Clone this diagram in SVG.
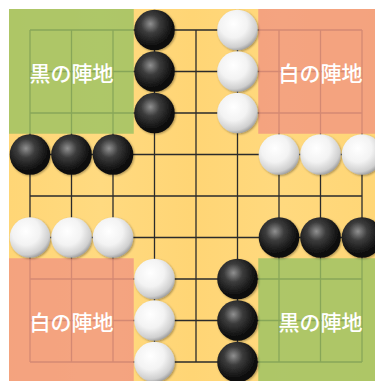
<svg xmlns="http://www.w3.org/2000/svg" width="375" height="381" viewBox="0 0 375 381">
<defs>
<linearGradient id="wood" x1="0" y1="0" x2="1" y2="0">
<stop offset="0" stop-color="#FFD676"/>
<stop offset="0.25" stop-color="#FFDA80"/>
<stop offset="0.5" stop-color="#FFD575"/>
<stop offset="0.75" stop-color="#FFD97E"/>
<stop offset="1" stop-color="#FFD676"/>
</linearGradient>
<radialGradient id="bk" cx="0.4" cy="0.35" r="0.65">
<stop offset="0" stop-color="#909090"/>
<stop offset="0.35" stop-color="#3c3c3c"/>
<stop offset="0.8" stop-color="#121212"/>
<stop offset="1" stop-color="#0a0a0a"/>
</radialGradient>
<radialGradient id="wh" cx="0.4" cy="0.35" r="0.68">
<stop offset="0" stop-color="#ffffff"/>
<stop offset="0.5" stop-color="#f3f3f3"/>
<stop offset="0.85" stop-color="#cfcfcf"/>
<stop offset="1" stop-color="#9a9a9a"/>
</radialGradient>
<filter id="sh" x="-20%" y="-20%" width="150%" height="150%">
<feDropShadow dx="1" dy="1" stdDeviation="0.8" flood-color="#000" flood-opacity="0.35"/>
</filter>
</defs>
<style>
.ln{stroke:#2b2b2b;stroke-width:1.3;fill:none}
.green{fill:#9CC263;opacity:0.82}
.pink{fill:#F29A80;opacity:0.85}
.lbl{font-family:"Noto Sans CJK JP","Noto Sans CJK SC",sans-serif;font-size:21px;font-weight:500;fill:#fff;text-anchor:middle;dominant-baseline:central}
.b{fill:url(#bk);filter:url(#sh)}
.w{fill:url(#wh);filter:url(#sh)}
</style>
<rect x="0" y="0" width="375" height="381" fill="#fff"/>
<rect id="board" x="9" y="9" width="366" height="372" fill="url(#wood)"/>
<g id="grid" class="ln">
<path d="M30 30V362M71.5 30V362M113 30V362M154.5 30V362M196 30V362M237.5 30V362M279 30V362M320.5 30V362M362 30V362"/>
<path d="M30 30H362M30 71.5H362M30 113H362M30 154.5H362M30 196H362M30 237.5H362M30 279H362M30 320.5H362M30 362H362"/>
</g>
<g id="territories">
<g id="black-tl"><rect class="green" x="9" y="9" width="124.75" height="124.75"/><text class="lbl" x="71.5" y="71.5">黒の陣地</text></g>
<g id="white-tr"><rect class="pink" x="258.25" y="9" width="116.75" height="124.75"/><text class="lbl" x="320.5" y="71.5">白の陣地</text></g>
<g id="white-bl"><rect class="pink" x="9" y="258.25" width="124.75" height="122.75"/><text class="lbl" x="71.5" y="320.5">白の陣地</text></g>
<g id="black-br"><rect class="green" x="258.25" y="258.25" width="116.75" height="122.75"/><text class="lbl" x="320.5" y="320.5">黒の陣地</text></g>
</g>
<g id="stones">
<circle class="b" cx="154.5" cy="30" r="20.3"/>
<circle class="b" cx="154.5" cy="71.5" r="20.3"/>
<circle class="b" cx="154.5" cy="113" r="20.3"/>
<circle class="b" cx="30" cy="154.5" r="20.3"/>
<circle class="b" cx="71.5" cy="154.5" r="20.3"/>
<circle class="b" cx="113" cy="154.5" r="20.3"/>
<circle class="w" cx="237.5" cy="30" r="20.3"/>
<circle class="w" cx="237.5" cy="71.5" r="20.3"/>
<circle class="w" cx="237.5" cy="113" r="20.3"/>
<circle class="w" cx="279" cy="154.5" r="20.3"/>
<circle class="w" cx="320.5" cy="154.5" r="20.3"/>
<circle class="w" cx="362" cy="154.5" r="20.3"/>
<circle class="w" cx="30" cy="237.5" r="20.3"/>
<circle class="w" cx="71.5" cy="237.5" r="20.3"/>
<circle class="w" cx="113" cy="237.5" r="20.3"/>
<circle class="w" cx="154.5" cy="279" r="20.3"/>
<circle class="w" cx="154.5" cy="320.5" r="20.3"/>
<circle class="w" cx="154.5" cy="362" r="20.3"/>
<circle class="b" cx="279" cy="237.5" r="20.3"/>
<circle class="b" cx="320.5" cy="237.5" r="20.3"/>
<circle class="b" cx="362" cy="237.5" r="20.3"/>
<circle class="b" cx="237.5" cy="279" r="20.3"/>
<circle class="b" cx="237.5" cy="320.5" r="20.3"/>
<circle class="b" cx="237.5" cy="362" r="20.3"/>
</g>
</svg>
